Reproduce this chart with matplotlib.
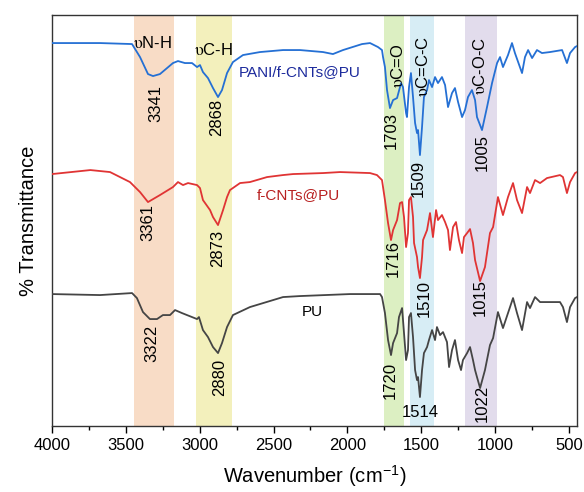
"""
FTIR spectra of PU, f-CNTs@PU and PANI/f-CNTs@PU with band assignments.
"""

import matplotlib
matplotlib.use("Agg")
import matplotlib.pyplot as plt
from matplotlib.ticker import MultipleLocator

# --- data (wavenumber in cm-1, stacked transmittance a.u.) ---
pani_wn = [4000, 3675, 3458, 3404, 3350, 3316, 3269, 3221, 3181, 3147, 3100, 3052, 3018,
           2998, 2978, 2944, 2910, 2876, 2849, 2815, 2775, 2707, 2592, 2436, 2321, 2165,
           2098, 2030, 1901, 1847, 1793, 1766, 1759, 1746, 1732, 1712, 1691, 1664, 1637,
           1624, 1603, 1597, 1583, 1570, 1556, 1542, 1529, 1522, 1509, 1495, 1482, 1461,
           1448, 1427, 1407, 1387, 1360, 1339, 1319, 1292, 1272, 1251, 1224, 1204, 1184,
           1157, 1136, 1123, 1089, 1055, 1021, 987, 967, 947, 913, 886, 866, 818, 798,
           777, 750, 717, 683, 629, 547, 514, 493, 459, 446]
pani_t = [383, 383, 382, 369, 352, 350, 352, 358, 363, 365, 363, 363, 359,
          361, 354, 348, 338, 329, 336, 353, 364, 371, 374, 376, 376, 374,
          372, 376, 382, 383, 379, 376, 369, 359, 336, 318, 326, 328, 343,
          339, 313, 309, 339, 353, 329, 303, 293, 296, 271, 299, 329, 336,
          346, 339, 349, 343, 349, 341, 319, 333, 338, 324, 309, 316, 329,
          336, 326, 309, 296, 319, 343, 363, 369, 359, 371, 383, 373, 353, 369,
          376, 368, 376, 373, 374, 376, 363, 373, 379, 380]

cnt_wn = [4000, 3740, 3607, 3472, 3404, 3350, 3269, 3181, 3147, 3113, 3079, 3018, 2998,
          2978, 2930, 2910, 2876, 2842, 2815, 2795, 2727, 2660, 2544, 2436, 2368, 2165,
          2050, 1847, 1800, 1766, 1746, 1725, 1705, 1691, 1664, 1644, 1630, 1617, 1603,
          1590, 1583, 1570, 1556, 1549, 1529, 1522, 1509, 1495, 1488, 1461, 1441, 1421,
          1400, 1387, 1360, 1339, 1319, 1306, 1285, 1265, 1245, 1224, 1211, 1190, 1170,
          1150, 1136, 1102, 1069, 1035, 1014, 981, 947, 913, 879, 852, 818, 784, 764,
          730, 696, 649, 561, 541, 514, 493, 459, 446]
cnt_t = [252, 256, 254, 244, 234, 224, 231, 239, 244, 241, 243, 241, 238,
         226, 216, 209, 201, 216, 229, 236, 243, 244, 249, 251, 252, 253,
         254, 253, 251, 246, 226, 203, 186, 196, 206, 223, 224, 209, 179,
         193, 226, 229, 209, 183, 169, 159, 148, 169, 186, 196, 213, 189,
         216, 206, 211, 204, 196, 176, 199, 204, 186, 173, 189, 193, 197,
         183, 166, 145, 159, 193, 199, 229, 211, 229, 243, 226, 213, 239, 233,
         246, 243, 248, 251, 249, 233, 244, 253, 254]

pu_wn = [4000, 3675, 3458, 3425, 3384, 3337, 3289, 3249, 3201, 3167, 3120, 3086, 3018,
         3005, 2978, 2944, 2910, 2876, 2849, 2815, 2775, 2660, 2436, 2321, 1983, 1779,
         1766, 1746, 1725, 1705, 1691, 1664, 1651, 1630, 1617, 1603, 1590, 1583, 1570,
         1556, 1542, 1529, 1522, 1509, 1495, 1482, 1461, 1448, 1427, 1407, 1394, 1373,
         1353, 1326, 1312, 1292, 1272, 1251, 1231, 1218, 1190, 1170, 1150, 1136, 1123,
         1102, 1069, 1035, 1014, 981, 947, 913, 879, 852, 818, 784, 764, 730, 696,
         649, 561, 541, 514, 493, 459, 446]
pu_t = [132, 131, 133, 128, 114, 107, 107, 111, 111, 116, 113, 111, 107,
        109, 96, 89, 79, 73, 83, 99, 111, 119, 129, 130, 132, 132,
        129, 113, 86, 71, 83, 93, 109, 118, 93, 66, 76, 109, 113,
        89, 56, 46, 49, 29, 56, 73, 79, 86, 96, 86, 99, 91,
        94, 84, 59, 76, 86, 66, 56, 66, 73, 79, 66, 56, 49,
        38, 56, 81, 88, 114, 98, 113, 128, 113, 96, 124, 118, 129, 124,
        124, 124, 119, 104, 119, 128, 129]

# shaded assignment bands (cm-1)
band_lo = [3172, 2779, 1619, 1415, 988]
band_hi = [3444, 3023, 1754, 1578, 1205]
band_colors = ["#f8dcc6", "#f3f0bc", "#dcefc2", "#d7edf5", "#e2dcec"]
band_names = [r"$\mathrm{\upsilon}$N-H", r"$\mathrm{\upsilon}$C-H", r"$\mathrm{\upsilon}$C=O",
              r"$\mathrm{\upsilon}$C=C-C", r"$\mathrm{\upsilon}$C-O-C"]

# peak labels: (text, wavenumber, height)
pani_peaks = [("3341", 3296, 323), ("2868", 2883, 309), ("1703", 1705, 296),
              ("1509", 1522, 248), ("1005", 1089, 274)]
cnt_peaks = [("3361", 3350, 204), ("2873", 2876, 178), ("1716", 1691, 168),
             ("1510", 1482, 128), ("1015", 1102, 129)]
pu_peaks = [("3322", 3323, 83), ("2880", 2862, 49), ("1720", 1712, 46),
            ("1022", 1089, 23)]

plt.rcParams["font.family"] = ["Liberation Sans", "DejaVu Sans"]
plt.rcParams["mathtext.fontset"] = "stix"

fig = plt.figure(figsize=(5.84, 4.92), dpi=100)
ax = fig.add_axes([0.089, 0.134, 0.899, 0.8354])

for lo, hi, c in zip(band_lo, band_hi, band_colors):
    ax.axvspan(lo, hi, color=c, lw=0, zorder=0)

ax.plot(pani_wn, pani_t, color="#2570d4", lw=1.3, zorder=3)
ax.plot(cnt_wn, cnt_t, color="#e03434", lw=1.3, zorder=3)
ax.plot(pu_wn, pu_t, color="#454545", lw=1.3, zorder=3)

# band names
ax.text(3323, 383, band_names[0], ha="center", va="center", fontsize=12, zorder=4)
ax.text(2910, 376, band_names[1], ha="center", va="center", fontsize=12, zorder=4)
for name, wn in zip(band_names[2:], [1658, 1488, 1102]):
    ax.text(wn, 360, name, ha="center", va="center", rotation=90, fontsize=12, zorder=4)

# sample names
ax.text(2321, 354, "PANI/f-CNTs@PU", ha="center", va="center", fontsize=11, color="#1c2a9c")
ax.text(2335, 231, "f-CNTs@PU", ha="center", va="center", fontsize=11, color="#b82020")
ax.text(2240, 114, "PU", ha="center", va="center", fontsize=11, color="black")

for peaks in (pani_peaks, cnt_peaks, pu_peaks):
    for txt, wn, h in peaks:
        ax.text(wn, h, txt, ha="center", va="center", rotation=90, fontsize=12, zorder=4)
ax.text(1509, 14, "1514", ha="center", va="center", fontsize=12, zorder=4)

ax.set_xlim(4000, 446)
ax.set_ylim(0, 411)
ax.xaxis.set_major_locator(MultipleLocator(500))
ax.xaxis.set_minor_locator(MultipleLocator(250))
ax.tick_params(axis="x", which="major", direction="out", length=5, width=1, labelsize=12)
ax.tick_params(axis="x", which="minor", direction="out", length=3, width=1)
ax.set_yticks([])
for s in ax.spines.values():
    s.set_color("#333333")
    s.set_linewidth(1)

ax.set_xlabel("Wavenumber (cm$^{\\mathregular{-1}}$)", fontsize=14.5, labelpad=8)
ax.set_ylabel("% Transmittance", fontsize=14.5, labelpad=10)

fig.savefig("out.png", dpi=100)
